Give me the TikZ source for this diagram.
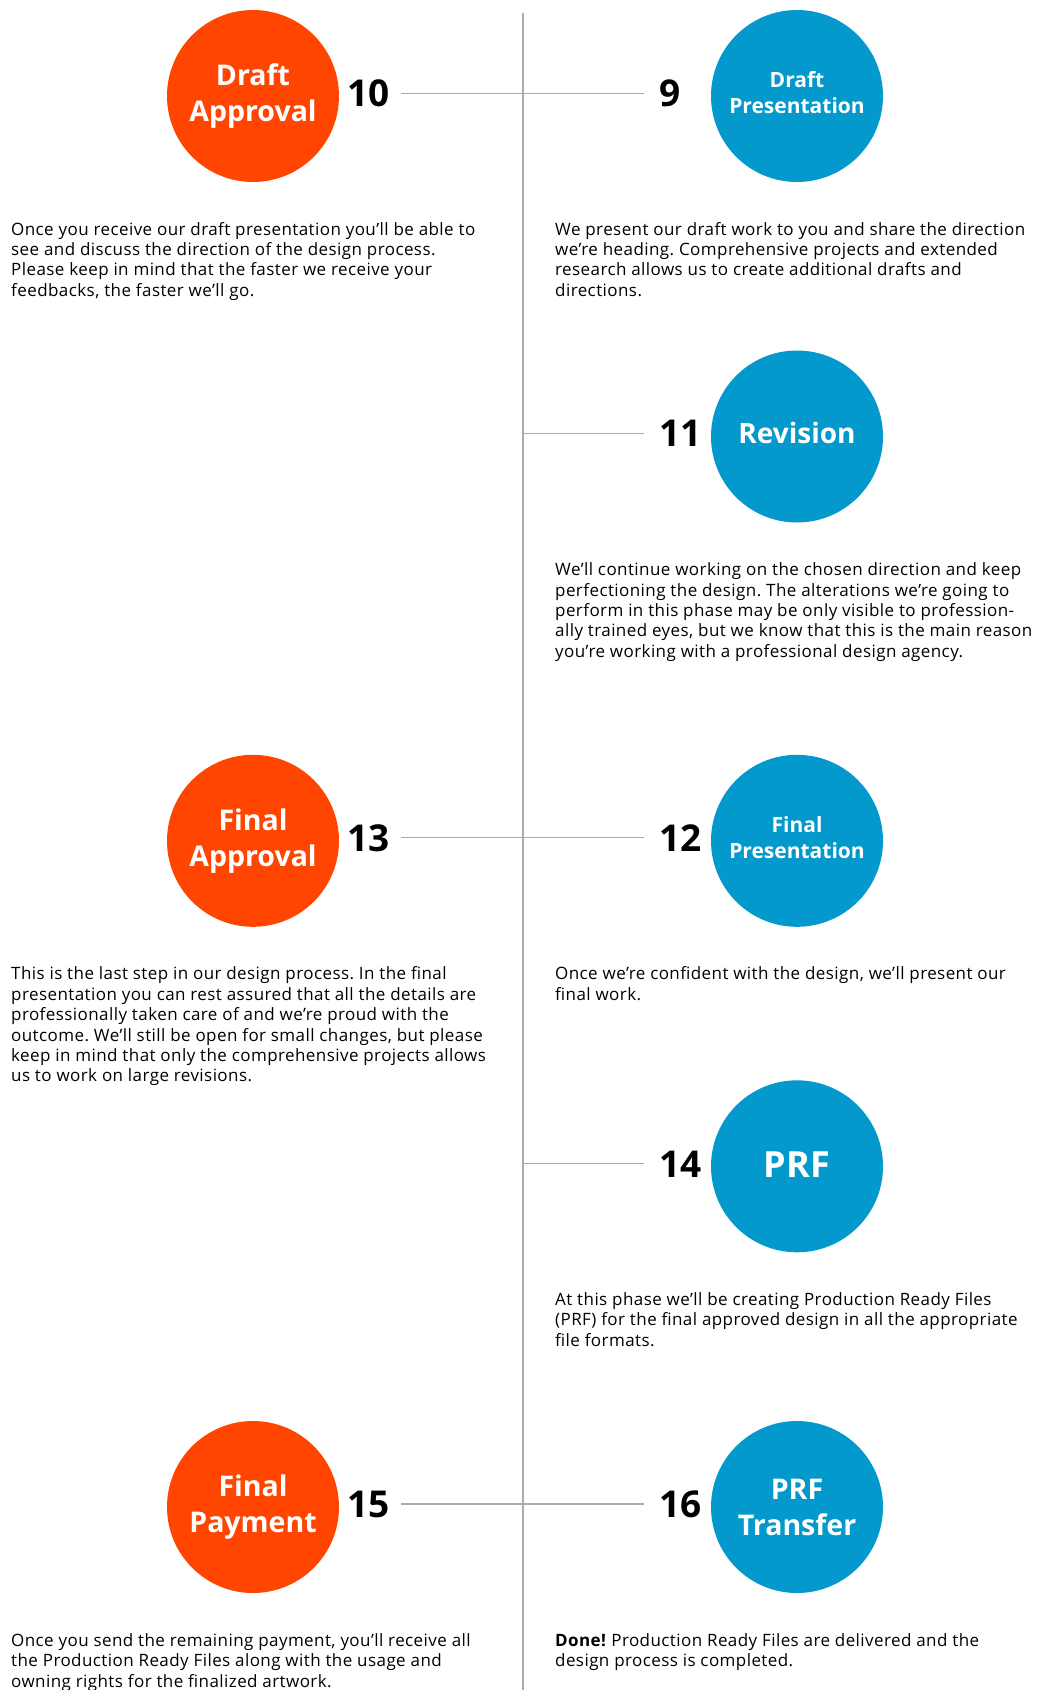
\documentclass[tikz,border=0pt]{standalone}
\usepackage{fontspec}
\setmainfont{Open Sans}
\newfontfamily\blurbfont{Open Sans}[LetterSpace=2.5]
\usepackage{tikz}
\usetikzlibrary{positioning}
\definecolor{stepred}{HTML}{FF4500}
\definecolor{stepblue}{HTML}{0399CC}
\definecolor{spinegray}{HTML}{ABABAB}
\frenchspacing

\begin{document}
\begin{tikzpicture}[x=1pt,y=-1pt,
  bubble/.style={circle,minimum size=172pt,inner sep=0pt,text=white,align=center},
  redbubble/.style={bubble,fill=stepred},
  bluebubble/.style={bubble,fill=stepblue},
  bigtitle/.style={font=\fontsize{28.5}{36}\selectfont\bfseries},
  smalltitle/.style={text=white,align=center,inner sep=0pt,yshift=3pt,font=\fontsize{21}{26}\selectfont\bfseries},
  num/.style={inner sep=0pt,font=\fontsize{37}{40}\selectfont\bfseries},
  blurb/.style={anchor=north west,inner sep=0pt,align=left,font=\blurbfont\fontsize{17}{20.4}\selectfont},
  link/.style={line width=1.2pt,spinegray}]
\useasboundingbox (0,0) rectangle (1038,1690);
\coordinate (spinetop) at (523,13);
\coordinate (spinebot) at (523,1690);
\draw [link] (spinetop) -- (spinebot);

\node [redbubble,bigtitle] (draftapp) at (253,96) {Draft\\Approval};
\node [bluebubble,label={[smalltitle]center:Draft\\Presentation}] (draftpres) at (797,96) {};
\node [num,anchor=east] (n10) at (390,93.5) {10};
\node [num,anchor=west] (n9) at (659,93.5) {9};
\draw [link,shorten <=11pt,shorten >=15pt] (n10) -- (n9);
\node [blurb] (t10) at (11,220.7) {\strut Once you receive our draft presentation you’ll be able to\\
see and discuss the direction of the design process.\\
Please keep in mind that the faster we receive your\\
feedbacks, the faster we’ll go.};
\node [blurb] (t9) at (555,220.7) {\strut We present our draft work to you and share the direction\\
we’re heading. Comprehensive projects and extended\\
research allows us to create additional drafts and\\
directions.};

\node [bluebubble,text depth=7pt,font=\fontsize{28}{35}\selectfont\bfseries] (revision) at (797,436.5) {Revision};
\node [num,anchor=west] (n11) at (659,433.5) {11};
\coordinate (s11) at (523,433.5);
\draw [link,shorten >=15pt] (s11) -- (n11);
\node [blurb] (t11) at (555,561.2) {\strut We’ll continue working on the chosen direction and keep\\
perfectioning the design. The alterations we’re going to\\
perform in this phase may be only visible to profession-\\
ally trained eyes, but we know that this is the main reason\\
you’re working with a professional design agency.};

\node [redbubble,bigtitle] (finalapp) at (253,840.8) {Final\\Approval};
\node [bluebubble,label={[smalltitle]center:Final\\Presentation}] (finalpres) at (797,840.8) {};
\node [num,anchor=east] (n13) at (390,837.8) {13};
\node [num,anchor=west] (n12) at (659,837.8) {12};
\draw [link,shorten <=11pt,shorten >=15pt] (n13) -- (n12);
\node [blurb] (t13) at (11,965.5) {\strut This is the last step in our design process. In the final\\
presentation you can rest assured that all the details are\\
professionally taken care of and we’re proud with the\\
outcome. We’ll still be open for small changes, but please\\
keep in mind that only the comprehensive projects allows\\
us to work on large revisions.};
\node [blurb] (t12) at (555,965.5) {\strut Once we’re confident with the design, we’ll present our\\
final work.};

\node [bluebubble,text depth=4pt,font=\fontsize{36}{40}\selectfont\bfseries] (prf) at (797,1166.3) {PRF};
\node [num,anchor=west] (n14) at (659,1163.8) {14};
\coordinate (s14) at (523,1163.8);
\draw [link,shorten >=15pt] (s14) -- (n14);
\node [blurb] (t14) at (555,1291) {\strut At this phase we’ll be creating Production Ready Files\\
(PRF) for the final approved design in all the appropriate\\
file formats.};

\node [redbubble,bigtitle] (finalpay) at (253,1507) {Final\\Payment};
\node [bluebubble,bigtitle] (prftrans) at (797,1507) {PRF\\Transfer};
\node [num,anchor=east] (n15) at (390,1504) {15};
\node [num,anchor=west] (n16) at (659,1504) {16};
\draw [link,shorten <=11pt,shorten >=15pt] (n15) -- (n16);
\node [blurb] (t15) at (11,1631.7) {\strut Once you send the remaining payment, you’ll receive all\\
the Production Ready Files along with the usage and\\
owning rights for the finalized artwork.};
\node [blurb] (t16) at (555,1631.7) {\strut \textbf{Done!} Production Ready Files are delivered and the\\
design process is completed.};
\end{tikzpicture}
\end{document}
